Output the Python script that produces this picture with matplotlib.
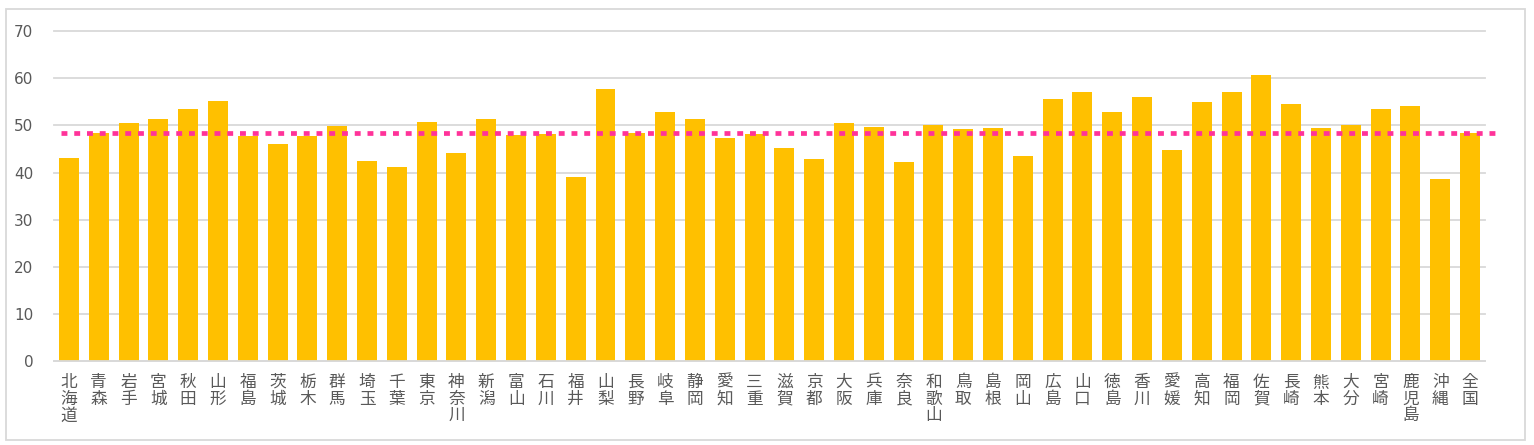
import matplotlib
matplotlib.use('Agg')
import matplotlib.pyplot as plt
from matplotlib.patches import Rectangle

plt.rcParams['font.family'] = ['Noto Sans CJK JP', 'DejaVu Sans']

prefs = ['北海道', '青森', '岩手', '宮城', '秋田', '山形', '福島', '茨城', '栃木', '群馬',
         '埼玉', '千葉', '東京', '神奈川', '新潟', '富山', '石川', '福井', '山梨', '長野',
         '岐阜', '静岡', '愛知', '三重', '滋賀', '京都', '大阪', '兵庫', '奈良', '和歌山',
         '鳥取', '島根', '岡山', '広島', '山口', '徳島', '香川', '愛媛', '高知', '福岡',
         '佐賀', '長崎', '熊本', '大分', '宮崎', '鹿児島', '沖縄', '全国']
values = [43.1, 48.5, 50.5, 51.3, 53.6, 55.1, 47.7, 46.0, 47.7, 49.8,
          42.4, 41.1, 50.7, 44.1, 51.3, 47.9, 48.3, 39.0, 57.7, 48.5,
          52.8, 51.3, 47.3, 48.3, 45.2, 42.8, 50.5, 49.6, 42.2, 50.2,
          49.2, 49.4, 43.5, 55.7, 57.0, 52.8, 56.0, 44.7, 54.9, 57.0,
          60.8, 54.5, 49.4, 50.2, 53.6, 54.1, 38.6, 48.5]
national = values[-1]
yticks = [0, 10, 20, 30, 40, 50, 60, 70]

fig = plt.figure(figsize=(15.34, 4.45), dpi=100)
ax = fig.add_axes([0.0352, 0.188, 0.9328, 0.742])

x = list(range(len(prefs)))
ax.bar(x, values, width=0.67, color='#FFC000', zorder=2)
ax.axhline(national, xmin=0.005, xmax=1.0077, color='#FF3399', lw=3.4,
           linestyle=(0, (1.25, 1.45)), dash_capstyle='butt', clip_on=False, zorder=3)

ax.set_xlim(-0.5, len(prefs) - 0.5)
ax.set_ylim(0, 70)
ax.set_yticks(yticks)
ax.set_xticks(x)
ax.set_xticklabels(['\n'.join(p) for p in prefs], fontsize=12, color='#595959',
                   linespacing=0.98, va='top')
ax.tick_params(axis='x', length=0, pad=9)
ax.tick_params(axis='y', length=0, pad=15, labelcolor='#595959')
for lab in ax.get_yticklabels():
    lab.set_family(['DejaVu Sans'])
    lab.set_fontsize(11)

ax.grid(axis='y', color='#D9D9D9', lw=1.3, zorder=0)
for gl in ax.get_ygridlines():
    gl.set_clip_on(False)
for s in ['top', 'right', 'left']:
    ax.spines[s].set_visible(False)
ax.spines['bottom'].set_color('#D9D9D9')
ax.spines['bottom'].set_linewidth(1.3)

fig.patches.append(Rectangle((6 / 1534, 5 / 445), 1519 / 1534, 431 / 445,
                             transform=fig.transFigure, fill=False,
                             edgecolor='#D9D9D9', lw=1.3))

fig.savefig('out.png', dpi=100, facecolor='white')
